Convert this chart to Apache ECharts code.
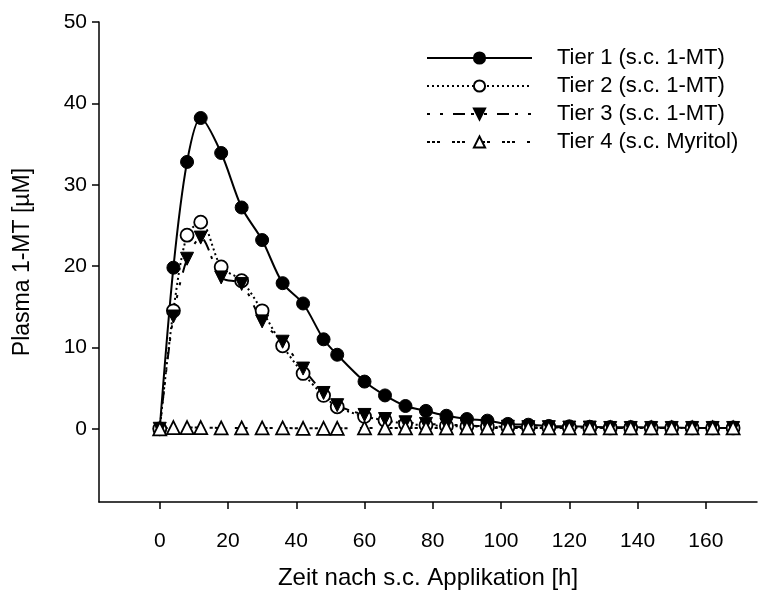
<!DOCTYPE html>
<html>
<head>
<meta charset="utf-8">
<script src="https://cdn.jsdelivr.net/npm/echarts@6/dist/echarts.min.js"></script>
<style>
html,body{margin:0;padding:0;background:#fff;}
#c{width:758px;height:595px;}
</style>
</head>
<body>
<div id="c"></div>
<script>
var times = [0,4,8,12,18,24,30,36,42,48,52,60,66,72,78,84,90,96,102,108,114,120,126,132,138,144,150,156,162,168];
var tier1 = [0,19.8,32.8,38.2,33.9,27.2,23.2,17.9,15.4,11.0,9.1,5.8,4.1,2.8,2.2,1.6,1.2,1.0,0.6,0.5,0.35,0.3,0.25,0.2,0.2,0.15,0.15,0.1,0.1,0.1];
var tier2 = [0,14.5,23.8,25.4,19.9,18.2,14.5,10.2,6.8,4.1,2.7,1.5,1.05,0.6,0.45,0.35,0.3,0.25,0.2,0.2,0.15,0.15,0.1,0.1,0.1,0.1,0.1,0.1,0.1,0.1];
var tier3 = [0,13.8,20.9,23.5,18.6,17.8,13.2,10.7,7.4,4.4,2.9,1.7,1.2,0.8,0.6,0.5,0.4,0.3,0.25,0.2,0.2,0.15,0.15,0.1,0.1,0.1,0.1,0.1,0.1,0.1];
var tier4 = [0,0.15,0.15,0.15,0.1,0.1,0.1,0.1,0.05,0.05,0.05,0.1,0.1,0.1,0.1,0.1,0.1,0.1,0.1,0.1,0.1,0.1,0.1,0.1,0.1,0.1,0.1,0.1,0.1,0.1];
var names = ['Tier 1 (s.c. 1-MT)','Tier 2 (s.c. 1-MT)','Tier 3 (s.c. 1-MT)','Tier 4 (s.c. Myritol)'];
var xTicks = [0,20,40,60,80,100,120,140,160];
var yTicks = [0,10,20,30,40,50];

function pairs(v){ return times.map(function(t,i){ return [t, v[i]]; }); }

var font = '"Liberation Sans", Arial, sans-serif';
var chart = echarts.init(document.getElementById('c'), null, {renderer:'canvas'});
chart.setOption({
  animation:false,
  backgroundColor:'#fff',
  grid:{left:99, right:1, top:22, bottom:91, containLabel:false},
  legend:{
    orient:'vertical', left:421, top:42,
    itemWidth:105, itemHeight:14, itemGap:6,
    textStyle:{fontFamily:font, fontSize:22, color:'#000', lineHeight:22, padding:[0,0,0,20]},
    data:names
  },
  xAxis:{
    type:'value', min:-17.8, max:175,
    name:'Zeit nach s.c. Applikation [h]', nameLocation:'middle', nameGap:64,
    nameTextStyle:{fontFamily:font, fontSize:24, color:'#000'},
    axisLine:{show:true, onZero:false, lineStyle:{color:'#000', width:1.5}},
    axisTick:{show:true, inside:false, length:7, customValues:xTicks, lineStyle:{color:'#000', width:1.5}},
    axisLabel:{customValues:xTicks, margin:29, fontFamily:font, fontSize:21, color:'#000'},
    splitLine:{show:false}
  },
  yAxis:{
    type:'value', min:-9, max:50,
    name:'Plasma 1-MT [µM]', nameLocation:'middle', nameGap:65,
    nameTextStyle:{fontFamily:font, fontSize:23, color:'#000'},
    axisLine:{show:true, onZero:false, lineStyle:{color:'#000', width:1.5}},
    axisTick:{show:true, inside:false, length:7, customValues:yTicks, lineStyle:{color:'#000', width:1.5}},
    axisLabel:{customValues:yTicks, margin:12, fontFamily:font, fontSize:21, color:'#000'},
    splitLine:{show:false}
  },
  series:[
    {name:names[0], type:'line', data:pairs(tier1), smooth:0.3,
     symbol:'circle', symbolSize:13,
     itemStyle:{color:'#000', borderColor:'#000', borderWidth:1},
     lineStyle:{color:'#000', width:2, type:'solid'}},
    {name:names[1], type:'line', data:pairs(tier2), smooth:0.3,
     symbol:'circle', symbolSize:13,
     itemStyle:{color:'#fff', borderColor:'#000', borderWidth:1.8},
     lineStyle:{color:'#000', width:2, type:[2,3]}},
    {name:names[2], type:'line', data:pairs(tier3), smooth:0.3,
     symbol:'triangle', symbolRotate:180, symbolSize:13,
     itemStyle:{color:'#000', borderColor:'#000', borderWidth:1},
     lineStyle:{color:'#000', width:2, type:[3,10,3,10,12,6]}},
    {name:names[3], type:'line', data:pairs(tier4), smooth:0.3,
     symbol:'triangle', symbolSize:13,
     itemStyle:{color:'#fff', borderColor:'#000', borderWidth:1.8},
     lineStyle:{color:'#000', width:2, type:[3,2,3,2,3,12]}}
  ]
});
</script>
</body>
</html>
